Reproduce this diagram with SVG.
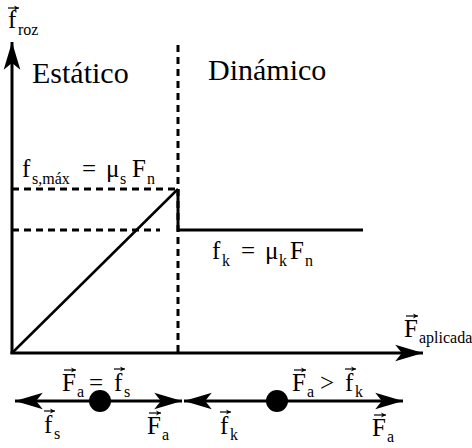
<svg xmlns="http://www.w3.org/2000/svg" width="472" height="448" viewBox="0 0 472 448">
<defs>
<marker id="ah" markerUnits="userSpaceOnUse" markerWidth="30" markerHeight="20" viewBox="-26 -8 27 16" refX="0" refY="0" orient="auto">
<path d="M0,0 L-25,-7.5 L-19,0 L-25,7.5 Z" fill="#000"/>
</marker>
<marker id="vh" markerUnits="userSpaceOnUse" markerWidth="8" markerHeight="6" viewBox="-5 -3 6 6" refX="0" refY="0" orient="auto">
<path d="M0,0 L-5,-2.5 L-3.5,0 L-5,2.5 Z" fill="#000"/>
</marker>
</defs>
<g id="connectors" stroke="#000" stroke-width="3" fill="none">
<line id="y-axis" x1="12" y1="354" x2="12" y2="42" marker-end="url(#ah)"/>
<line id="x-axis" x1="10.5" y1="353" x2="423" y2="353" marker-end="url(#ah)"/>
<line id="divider" stroke-dasharray="7 5" x1="178" y1="45" x2="178" y2="353"/>
<line stroke-dasharray="7 5" x1="12" y1="189" x2="178" y2="189"/>
<line stroke-dasharray="7 5" x1="12" y1="230" x2="160" y2="230"/>
<line id="static-ramp" stroke-width="2.5" x1="12" y1="353" x2="178" y2="189"/>
<polyline id="kinetic" points="178,189 178,230 363,230"/>
<line id="arrow-fs" x1="100" y1="401" x2="15" y2="401" marker-end="url(#ah)"/>
<line id="arrow-Fa1" x1="100" y1="401" x2="182" y2="401" marker-end="url(#ah)"/>
<line id="arrow-fk" x1="277" y1="401" x2="184" y2="401" marker-end="url(#ah)"/>
<line id="arrow-Fa2" x1="277" y1="401" x2="403" y2="401" marker-end="url(#ah)"/>
</g>
<g id="body-static"><circle cx="100" cy="401" r="11" fill="#000"/></g>
<g id="body-kinetic"><circle cx="277" cy="401" r="11" fill="#000"/></g>
<g id="vectors" stroke="#000" stroke-width="1.2" fill="none">
<line x1="8" y1="8" x2="19" y2="8" marker-end="url(#vh)"/>
<line x1="406" y1="316" x2="418" y2="316" marker-end="url(#vh)"/>
<line x1="64" y1="370" x2="76" y2="370" marker-end="url(#vh)"/>
<line x1="114" y1="369" x2="125" y2="369" marker-end="url(#vh)"/>
<line x1="44" y1="411" x2="55" y2="411" marker-end="url(#vh)"/>
<line x1="149" y1="413" x2="161" y2="413" marker-end="url(#vh)"/>
<line x1="220" y1="412" x2="231" y2="412" marker-end="url(#vh)"/>
<line x1="294" y1="370" x2="306" y2="370" marker-end="url(#vh)"/>
<line x1="345" y1="369" x2="356" y2="369" marker-end="url(#vh)"/>
<line x1="374" y1="415" x2="386" y2="415" marker-end="url(#vh)"/>
</g>
<text font-family="Liberation Serif" font-size="30" x="32" y="83">Estático</text>
<text font-family="Liberation Serif" font-size="30" x="208" y="80">Dinámico</text>
<text font-family="Liberation Serif" font-size="25" x="8" y="28">f</text>
<text font-family="Liberation Serif" font-size="16" x="18" y="35">roz</text>
<text font-family="Liberation Serif" font-size="25" x="22" y="177">f</text>
<text font-family="Liberation Serif" font-size="16" x="32" y="184">s,máx</text>
<text font-family="Liberation Serif" font-size="25" x="82" y="177">=</text>
<text font-family="Liberation Serif" font-size="25" x="106" y="177">μ</text>
<text font-family="Liberation Serif" font-size="16" x="120" y="184">s</text>
<text font-family="Liberation Serif" font-size="25" x="132" y="177">F</text>
<text font-family="Liberation Serif" font-size="16" x="147" y="184">n</text>
<text font-family="Liberation Serif" font-size="25" x="212" y="259">f</text>
<text font-family="Liberation Serif" font-size="16" x="222" y="266">k</text>
<text font-family="Liberation Serif" font-size="25" x="241" y="259">=</text>
<text font-family="Liberation Serif" font-size="25" x="265" y="259">μ</text>
<text font-family="Liberation Serif" font-size="16" x="279" y="266">k</text>
<text font-family="Liberation Serif" font-size="25" x="290" y="259">F</text>
<text font-family="Liberation Serif" font-size="16" x="305" y="266">n</text>
<text font-family="Liberation Serif" font-size="25" x="404" y="337">F</text>
<text font-family="Liberation Serif" font-size="16" x="419" y="343">aplicada</text>
<text font-family="Liberation Serif" font-size="25" x="62" y="391">F</text>
<text font-family="Liberation Serif" font-size="16" x="77" y="397">a</text>
<text font-family="Liberation Serif" font-size="25" x="89" y="391">=</text>
<text font-family="Liberation Serif" font-size="25" x="114" y="391">f</text>
<text font-family="Liberation Serif" font-size="16" x="124" y="397">s</text>
<text font-family="Liberation Serif" font-size="25" x="44" y="433">f</text>
<text font-family="Liberation Serif" font-size="16" x="54" y="439">s</text>
<text font-family="Liberation Serif" font-size="25" x="147" y="434">F</text>
<text font-family="Liberation Serif" font-size="16" x="162" y="440">a</text>
<text font-family="Liberation Serif" font-size="25" x="220" y="434">f</text>
<text font-family="Liberation Serif" font-size="16" x="230" y="440">k</text>
<text font-family="Liberation Serif" font-size="25" x="292" y="391">F</text>
<text font-family="Liberation Serif" font-size="16" x="307" y="397">a</text>
<text font-family="Liberation Serif" font-size="25" x="320" y="391">&gt;</text>
<text font-family="Liberation Serif" font-size="25" x="345" y="391">f</text>
<text font-family="Liberation Serif" font-size="16" x="355" y="397">k</text>
<text font-family="Liberation Serif" font-size="25" x="372" y="436">F</text>
<text font-family="Liberation Serif" font-size="16" x="387" y="442">a</text>
</svg>
